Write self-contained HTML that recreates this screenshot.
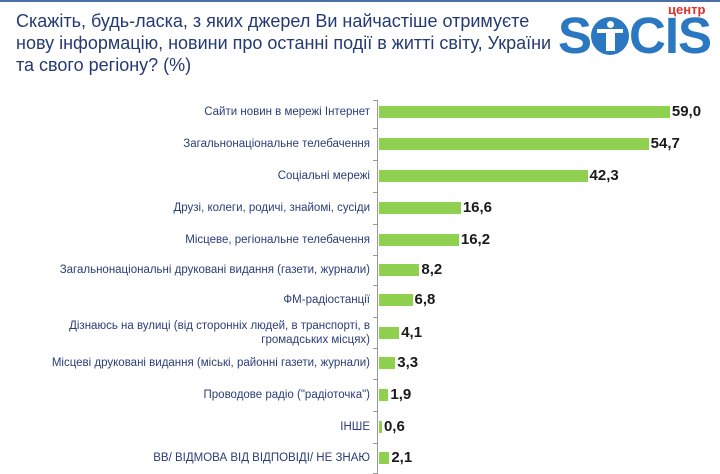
<!DOCTYPE html>
<html><head><meta charset="utf-8"><style>
body{margin:0;width:720px;height:474px;background:#fff;position:relative;overflow:hidden;font-family:"Liberation Sans",sans-serif}
.top{position:absolute;left:0;top:0;width:720px;height:2px;background:#4a6fa8}
.title{position:absolute;left:16px;top:10px;font-size:18px;line-height:22px;color:#243a73}
.logo{position:absolute;left:558px;top:6px;font-weight:bold;color:#2a78c2;font-size:51px;letter-spacing:-1px;font-family:"Liberation Sans",sans-serif}
.cent{position:absolute;left:668px;top:2px;font-size:13px;font-weight:bold;color:#e0302a}
.lab{position:absolute;right:350px;font-size:11.5px;color:#2b3d78;text-align:right;line-height:14px}
.bar{position:absolute;left:379px;height:12px;background:#8fd14f}
.val{position:absolute;font-size:15px;font-weight:bold;color:#1a1a1a;font-family:"Liberation Sans Narrow","Liberation Sans",sans-serif}
.axis{position:absolute;left:377px;top:100px;width:1px;height:374px;background:#999}
.tk{position:absolute;left:373px;width:4px;height:1px;background:#999}
</style></head><body>
<div class="top"></div>
<div class="title">Скажіть, будь-ласка, з яких джерел Ви найчастіше отримуєте<br>нову інформацію, новини про останні події в житті світу, України<br>та свого регіону? (%)</div>
<div class="cent">центр</div>
<div class="logo">S<span style="display:inline-block;width:38px;height:38px;border-radius:50%;background:#2a78c2;vertical-align:-2px;position:relative"><span style="position:absolute;left:16px;top:4px;width:7px;height:7px;border-radius:50%;background:#fff"></span><span style="position:absolute;left:6px;top:12px;width:26px;height:4px;background:#fff"></span><span style="position:absolute;left:15px;top:14px;width:9px;height:20px;background:#fff"></span></span>CIS</div>
<div class="axis"></div>
<div id="c"></div>
<script>
var d=[["Сайти новин в мережі Інтернет",59.0,112],["Загальнонаціональне телебачення",54.7,144],["Соціальні мережі",42.3,176],["Друзі, колеги, родичі, знайомі, сусіди",16.6,208],["Місцеве, регіональне телебачення",16.2,240],["Загальнонаціональні друковані видання (газети, журнали)",8.2,270],["ФМ-радіостанції",6.8,300],["Дізнаюсь на вулиці (від сторонніх людей, в транспорті, в<br>громадських місцях)",4.1,333],["Місцеві друковані видання (міські, районні газети, журнали)",3.3,363],["Проводове радіо (\"радіоточка\")",1.9,395],["ІНШЕ",0.6,427],["ВВ/ ВІДМОВА ВІД ВІДПОВІДІ/ НЕ ЗНАЮ",2.1,458]];
var h="",k=4.93;
d.forEach(function(r,i){var w=Math.max(2,r[1]*k);var two=r[0].indexOf("<br>")>0;
h+='<div class="lab" style="top:'+(r[2]-(two?14:7))+'px">'+r[0]+'</div>';
h+='<div class="bar" style="top:'+(r[2]-6)+'px;width:'+w+'px"></div>';
h+='<div class="val" style="left:'+(381+w)+'px;top:'+(r[2]-9)+'px">'+r[1].toFixed(1).replace(".",",")+'</div>';
if(i>0)h+='<div class="tk" style="top:'+Math.round((r[2]+d[i-1][2])/2)+'px"></div>';});
h+='<div class="tk" style="top:100px"></div><div class="tk" style="top:473px"></div>';
document.getElementById("c").innerHTML=h;
</script>
</body></html>
